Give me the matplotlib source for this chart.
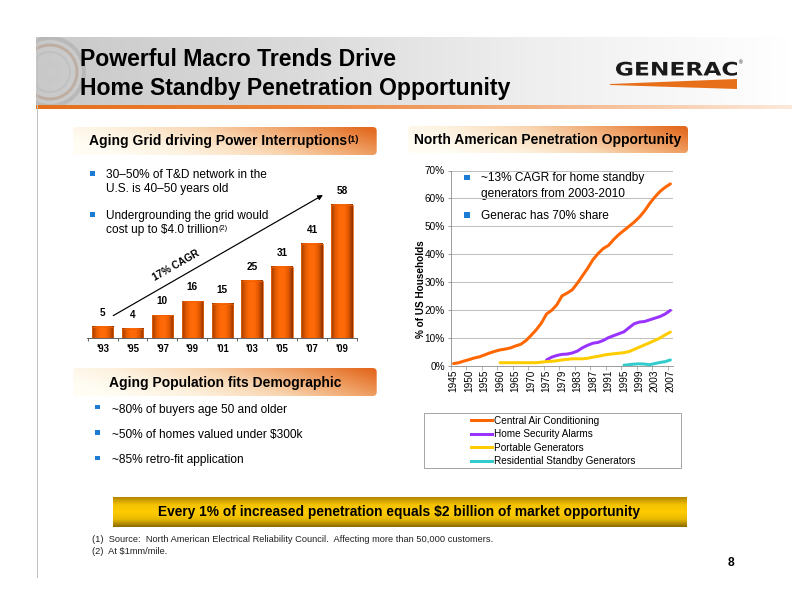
import numpy as np
import matplotlib
matplotlib.use('Agg')
import matplotlib.pyplot as plt
from matplotlib.colors import LinearSegmentedColormap
from matplotlib.patches import Rectangle, FancyBboxPatch, Polygon, Circle, PathPatch
from matplotlib.lines import Line2D
from matplotlib.textpath import TextPath
from matplotlib.font_manager import FontProperties
from matplotlib.transforms import Affine2D

plt.rcParams['font.family'] = ['Liberation Sans', 'DejaVu Sans']

# power interruptions (bar chart)
bar_years = ["'93", "'95", "'97", "'99", "'01", "'03", "'05", "'07", "'09"]
bar_values = [5, 4, 10, 16, 15, 25, 31, 41, 58]

# penetration chart: 3 points between each labelled year
year_labels = ['1945', '1950', '1955', '1960', '1965', '1970', '1975', '1979',
               '1983', '1987', '1991', '1995', '1999', '2003', '2007']
pts_per_label = 3
central_air = [0.7, 1.0, 1.6, 2.1, 2.7, 3.1, 3.8, 4.5, 5.1, 5.6, 5.9, 6.3, 7.0,
               7.6, 8.9, 10.8, 12.8, 15.2, 18.5, 19.8, 21.8, 25.0, 26.0, 27.2,
               29.6, 32.3, 35.0, 38.0, 40.2, 42.0, 43.1, 45.2, 47.0, 48.5, 50.0,
               51.5, 53.3, 55.5, 58.2, 60.5, 62.5, 64.0, 65.2]
security_alarms = [np.nan] * 18 + [2.0, 3.0, 3.6, 4.0, 4.1, 4.5, 5.2, 6.4, 7.3,
                                   8.0, 8.3, 9.0, 10.0, 10.7, 11.4, 12.1, 13.6,
                                   15.0, 15.6, 15.8, 16.4, 17.0, 17.6, 18.5, 19.8]
portable_gen = [np.nan] * 9 + [1.0] * 8 + [1.2, 1.4, 1.5, 1.7, 2.0, 2.2, 2.4,
                                           2.4, 2.4, 2.6, 3.0, 3.3, 3.7, 4.0,
                                           4.2, 4.4, 4.6, 5.0, 5.8, 6.6, 7.4,
                                           8.2, 9.0, 9.9, 11.0, 12.0]
standby_gen = [np.nan] * 33 + [0.1, 0.3, 0.5, 0.6, 0.5, 0.3, 0.7, 1.1, 1.4, 2.0]
series_names = ['Central Air Conditioning', 'Home Security Alarms',
                'Portable Generators', 'Residential Standby Generators']
series_colors = ['#FF6600', '#9933FF', '#FFCC00', '#33CCCC']

W, H = 792, 612
fig = plt.figure(figsize=(W / 72, H / 72), dpi=72)

# full-page pixel axes for the slide decoration
bg = fig.add_axes([0, 0, 1, 1])
bg.axis('off')


def fx(x):
    return x / W


def fy(y):
    return 1 - y / H


def gradient_box(x0, y0, x1, y1, colors, img, rounding=0, z=1):
    cmap = LinearSegmentedColormap.from_list('g', colors)
    im = bg.imshow(img, cmap=cmap, extent=(x0, x1, y1, y0), aspect='auto',
                   zorder=z, interpolation='bicubic', vmin=0, vmax=1)
    if rounding:
        clip = FancyBboxPatch((x0, y0), x1 - x0, y1 - y0,
                              boxstyle=f'round,pad=0,rounding_size={rounding}',
                              transform=bg.transData, fc='none', ec='none')
        bg.add_patch(clip)
        im.set_clip_path(clip)
    return im


gx = np.linspace(0, 1, 200)[None, :]
gy = np.linspace(0, 1, 40)[:, None]

# header band
gradient_box(36, 37, 792, 106, ['#C9C9C9', '#DADADA', '#EFEFEF', '#FFFFFF'],
             np.repeat(gx, 2, axis=0), z=0)
hdr = Rectangle((36, 37), 756, 69, transform=bg.transData, fc='none', ec='none')
bg.add_patch(hdr)
for r, c, lw in [(34, '#9A9A9A', 4), (27, '#A87A5A', 3), (20, '#B0B0B0', 2), (9, '#C8C8C8', 6)]:
    circ = Circle((50, 72), r, fc='none', ec=c, lw=lw, alpha=0.35, zorder=1)
    bg.add_patch(circ)
    circ.set_clip_path(hdr)
gradient_box(36, 105.5, 792, 109, ['#E5701C', '#EC8236', '#F3B283', '#FCE9DA'],
             np.repeat(gx, 2, axis=0), z=2)
bg.plot([37, 37], [37, 577], color='#C0C0C0', lw=1, zorder=2)

bg.text(80, 60, 'Powerful Macro Trends Drive', fontsize=23, weight='bold', va='center')
bg.text(80, 88, 'Home Standby Penetration Opportunity', fontsize=23, weight='bold', va='center')

# GENERAC logo
tp = TextPath((0, 0), 'GENERAC', size=1, prop=FontProperties(family='DejaVu Sans', weight='bold'))
ext = tp.get_extents()
tf = Affine2D().translate(-ext.x0, -ext.y0).scale(121 / ext.width, -14 / ext.height).translate(616, 75.7)
bg.add_patch(PathPatch(tf.transform_path(tp), fc='#1A1A1A', ec='none', zorder=3))
bg.text(740.5, 63, '®', fontsize=5, ha='center', va='center')
bg.add_patch(Polygon([(610, 84), (737, 79), (737, 89), (610, 85)], closed=True,
                     fc='#E86F1A', ec='none', zorder=3))

# section headers
hdr_img = np.clip(0.9 * gx + 0.25 * (1 - gy) - 0.12, 0, 1)
hdr_colors = ['#FFFDF4', '#FDF1DE', '#F9D6B2', '#F0A46A', '#E3691F']
gradient_box(72.7, 127, 376.7, 155, hdr_colors, hdr_img, rounding=4)
t1 = bg.text(218, 141.5, 'Aging Grid driving Power Interruptions', fontsize=13.9,
             weight='bold', ha='center', va='center', zorder=3)
bg.annotate('(1)', xy=(1.0, 0.95), xycoords=t1, fontsize=9, weight='bold',
            ha='left', va='top', zorder=3)
gradient_box(408, 126, 688, 153, hdr_colors, hdr_img, rounding=4)
bg.text(548, 140, 'North American Penetration Opportunity', fontsize=13.9,
        weight='bold', ha='center', va='center', zorder=3)
gradient_box(72.7, 368, 376.7, 396, hdr_colors, hdr_img, rounding=4)
bg.text(225, 382.5, 'Aging Population fits Demographic', fontsize=13.9,
        weight='bold', ha='center', va='center', zorder=3)

bullet_blue = '#1C7CD5'


def bullet(x, y, size=5.6):
    bg.add_patch(Rectangle((x - size / 2, y - size / 2), size, size, fc=bullet_blue, ec='none', zorder=3))


# left bullets
bullet(92.3, 173.5)
bg.text(106.5, 174.5, '30\u201350% of T&D network in the', fontsize=11.9, va='center')
bg.text(106.5, 189, 'U.S. is 40\u201350 years old', fontsize=11.9, va='center')
bullet(92.3, 214.5)
bg.text(106.5, 215.5, 'Undergrounding the grid would', fontsize=11.9, va='center')
t2 = bg.text(106.5, 230, 'cost up to $4.0 trillion', fontsize=11.9, va='center')
bg.annotate('(2)', xy=(1.0, 0.95), xycoords=t2, fontsize=7.5, ha='left', va='top')

# demographic bullets
demo_lines = ['~80% of buyers age 50 and older', '~50% of homes valued under $300k',
              '~85% retro-fit application']
for k, line in enumerate(demo_lines):
    y = 409.5 + k * 25.5
    bullet(97.3, y - 2.5, 4.6)
    bg.text(111.7, y, line, fontsize=11.9, va='center')

# right-side bullets over the line chart
bullet(466.7, 177.5)
bg.text(480.7, 178.5, '~13% CAGR for home standby', fontsize=11.9, va='center', zorder=3)
bg.text(480.7, 193.5, 'generators from 2003-2010', fontsize=11.9, va='center', zorder=3)
bullet(466.7, 215)
bg.text(480.7, 216, 'Generac has 70% share', fontsize=11.9, va='center', zorder=3)

# legend box and y label for the line chart
bg.add_patch(Rectangle((424, 413), 257, 55, fc='white', ec='#A6A6A6', lw=1, zorder=1))
bg.text(421, 289, '% of US Households', fontsize=10, weight='bold', rotation=90,
        ha='center', va='center')

# bottom banner
banner_img = np.repeat(np.linspace(0, 1, 60)[:, None], 2, axis=1)
gradient_box(112.6, 497, 686.4, 527, ['#B38600', '#F2C200', '#FFCC00', '#E8B800', '#8C6A00'],
             banner_img, z=1)
bg.text(399.5, 512, 'Every 1% of increased penetration equals $2 billion of market opportunity',
        fontsize=13.8, weight='bold', ha='center', va='center', zorder=3)

bg.text(92, 540, '(1)  Source:  North American Electrical Reliability Council.  '
        'Affecting more than 50,000 customers.', fontsize=9.2, va='center', color='#222222')
bg.text(92, 551.5, '(2)  At $1mm/mile.', fontsize=9.2, va='center', color='#222222')
bg.text(731, 563, '8', fontsize=12, weight='bold', ha='center', va='center')

bg.set_xlim(0, W)
bg.set_ylim(H, 0)

# ---- bar chart ----
ax1 = fig.add_axes([fx(87), fy(338), 270 / W, 142.6 / H])
ax1.patch.set_alpha(0)
bar_cmap = LinearSegmentedColormap.from_list(
    'bar', ['#9A3C00', '#E65A00', '#FF6A08', '#FF6A08', '#E25800', '#8A3300'])
bar_w = 0.72
xs = np.arange(len(bar_values))
for i, v in zip(xs, bar_values):
    ax1.imshow(np.linspace(0, 1, 64)[None, :], cmap=bar_cmap, aspect='auto',
               extent=(i - bar_w / 2, i + bar_w / 2, 0, v), zorder=2)
    ax1.text(i, v + 6, str(v), ha='center', va='center', fontsize=10, weight='bold')
ax1.bar(xs, bar_values, width=bar_w, fc='none', ec='#F06000', lw=0.8, zorder=3)
ax1.set_xlim(-0.52, 8.42)
ax1.set_ylim(0, 62)
ax1.set_xticks(xs)
ax1.set_xticklabels(bar_years, fontsize=9.5, weight='bold')
ax1.set_xticks(np.arange(-0.5, 9, 1), minor=True)
ax1.tick_params(axis='x', which='major', length=0, pad=6)
ax1.tick_params(axis='x', which='minor', length=3, width=0.8, color='#404040')
ax1.set_yticks([])
for s in ['top', 'right', 'left']:
    ax1.spines[s].set_visible(False)
ax1.spines['bottom'].set_color('#404040')
ax1.annotate('', xy=(7.42, 62.6), xytext=(0.3, 9.3),
             arrowprops=dict(arrowstyle='-|>', color='black', lw=1.2, mutation_scale=10),
             annotation_clip=False)
ax1.text(2.45, 31.5, '17% CAGR', rotation=29.8, rotation_mode='anchor', ha='center',
         va='center', fontsize=10, weight='bold')

# ---- line chart ----
ax2 = fig.add_axes([fx(451), fy(365.5), 222 / W, 195 / H])
ax2.patch.set_alpha(0)
idx = np.arange(len(central_air))
for vals, col in zip([central_air, security_alarms, portable_gen, standby_gen], series_colors):
    ax2.plot(idx, vals, color=col, lw=3, solid_capstyle='round', zorder=3)
ax2.set_xlim(-0.5, len(central_air) - 0.5)
ax2.set_ylim(0, 70)
ax2.set_yticks(np.arange(0, 71, 10))
ax2.set_yticklabels([f'{v}%' for v in range(0, 71, 10)], fontsize=10)
ax2.yaxis.grid(True, color='#BFBFBF', lw=1)
ax2.set_axisbelow(True)
ax2.set_xticks(np.arange(0, len(central_air), pts_per_label))
ax2.set_xticklabels(year_labels, rotation=90, fontsize=10)
ax2.set_xticks(np.arange(-0.5, len(central_air), pts_per_label), minor=True)
ax2.tick_params(axis='x', which='major', length=0, pad=4)
ax2.tick_params(axis='x', which='minor', length=4, color='#868686')
ax2.tick_params(axis='y', length=3, color='#868686', pad=3)
for s in ['top', 'right']:
    ax2.spines[s].set_visible(False)
for s in ['left', 'bottom']:
    ax2.spines[s].set_color('#868686')

handles = [Line2D([], [], color=c, lw=3) for c in series_colors]
fig.legend(handles, series_names, loc='center', bbox_to_anchor=(fx(553.5), fy(441)),
           bbox_transform=fig.transFigure, frameon=False, fontsize=10,
           handlelength=2.1, handletextpad=0.2, labelspacing=0.35)

fig.savefig('out.png', dpi=72)
